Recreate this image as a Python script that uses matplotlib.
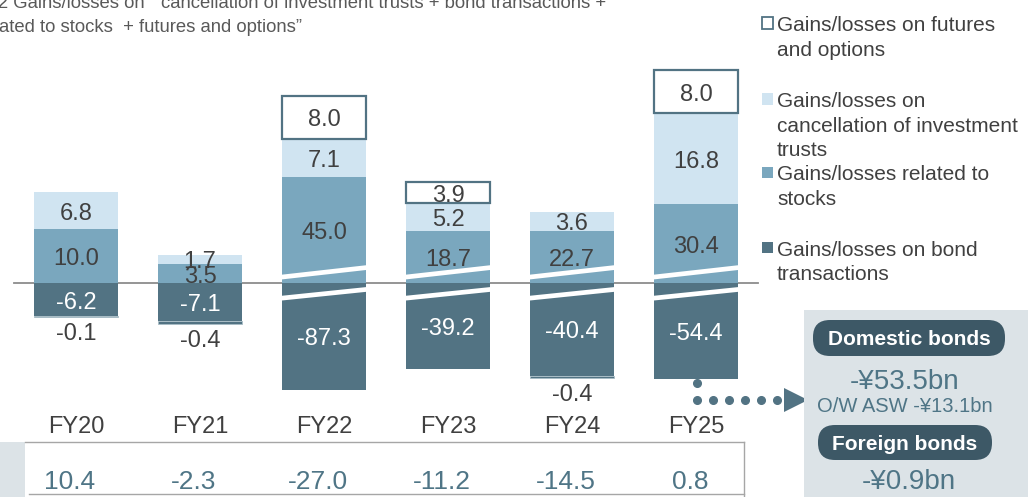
import matplotlib
matplotlib.use("Agg")
import matplotlib.pyplot as plt
from matplotlib.patches import Rectangle, FancyBboxPatch, Polygon
import numpy as np

plt.rcParams['font.family'] = ['Liberation Sans', 'DejaVu Sans']

# data (JPY bn)
years = ["FY20", "FY21", "FY22", "FY23", "FY24", "FY25"]
futures = [-0.1, -0.4, 8.0, 3.9, -0.4, 8.0]
trusts = [6.8, 1.7, 7.1, 5.2, 3.6, 16.8]
stocks = [10.0, 3.5, 45.0, 18.7, 22.7, 30.4]
bonds = [-6.2, -7.1, -87.3, -39.2, -40.4, -54.4]
totals = [10.4, -2.3, -27.0, -11.2, -14.5, 0.8]

# amount left out at the axis break on the tall segments
stocks_break = [0, 0, 25.4, 9.1, 13.1, 15.8]
bonds_break = [0, 0, 67.5, 23.3, 23.2, 36.6]

legend_items = [
    ["Gains/losses on futures", "and options"],
    ["Gains/losses on", "cancellation of investment", "trusts"],
    ["Gains/losses related to", "stocks"],
    ["Gains/losses on bond", "transactions"],
]
domestic = ["-¥53.5bn", "O/W ASW -¥13.1bn"]
foreign = ["-¥0.9bn"]

C_BOND = '#527383'
C_STOCK = '#7aa7be'
C_TRUST = '#d0e4f1'
C_TEXT = '#404040'
C_NUM = '#4f7586'
C_PANEL = '#dce3e7'
C_PILL = '#3d5866'

W, H = 1028, 497
fig = plt.figure(figsize=(W / 100, H / 100), dpi=100)
ax = fig.add_axes([0, 0, 1, 1])
ax.axis('off')

# pixel -> data helpers (FY20 centre at x=76px, zero line at y=283px)
def px(v):
    return (np.asarray(v, dtype=float) - 76) / 124

def py(v):
    return (283 - np.asarray(v, dtype=float)) / 5.4

ax.set_xlim(px(0), px(W))
ax.set_ylim(py(H), py(0))

x = np.arange(len(years))
w = 0.68
fut = np.array(futures)
stocks_shown = np.array(stocks) - np.array(stocks_break)
bonds_shown = np.array(bonds) + np.array(bonds_break)
top = stocks_shown + np.array(trusts)
pos = fut > 0

ax.plot([px(14), px(758)], [0, 0], color='#8c8c8c', lw=1.3, zorder=1)

ax.bar(x, bonds_shown, w, color=C_BOND, zorder=2)
ax.bar(x, stocks_shown, w, color=C_STOCK, zorder=2)
ax.bar(x, trusts, w, bottom=stocks_shown, color=C_TRUST, zorder=2)
ax.bar(x[pos], fut[pos], w, bottom=top[pos], facecolor='white',
       edgecolor=C_BOND, linewidth=1.6, zorder=3)
ax.bar(x[~pos], fut[~pos], w, bottom=bonds_shown[~pos], color=C_BOND,
       edgecolor='#a9bdc7', linewidth=0.6, zorder=3)

# break marks
for i in x:
    if stocks_break[i] > 0:
        ax.plot([i - w / 2 - 0.02, i + w / 2 + 0.02], [1.05, 2.9], color='white',
                lw=3.4, solid_capstyle='butt', zorder=4)
    if bonds_break[i] > 0:
        ax.plot([i - w / 2 - 0.02, i + w / 2 + 0.02], [-2.85, -1.15], color='white',
                lw=3.4, solid_capstyle='butt', zorder=4)

# value labels (small downward nudge so digits sit in the middle)
dy = -0.55
for i in x:
    ax.text(i, stocks_shown[i] / 2 + dy, f"{stocks[i]:.1f}", ha='center', va='center',
            fontsize=17, color=C_TEXT, zorder=5)
    ax.text(i, stocks_shown[i] + trusts[i] / 2 + dy, f"{trusts[i]:.1f}", ha='center',
            va='center', fontsize=17, color=C_TEXT, zorder=5)
    ax.text(i, bonds_shown[i] / 2 + dy, f"{bonds[i]:.1f}", ha='center', va='center',
            fontsize=17, color='white', zorder=5)
    if fut[i] > 0:
        ax.text(i, top[i] + fut[i] / 2 + dy, f"{fut[i]:.1f}", ha='center', va='center',
                fontsize=17, color=C_TEXT, zorder=5)
    else:
        ax.text(i, bonds_shown[i] + fut[i] - 2.6 + dy, f"{fut[i]:.1f}", ha='center',
                va='center', fontsize=17, color=C_TEXT, zorder=5)
    ax.text(i, py(433), years[i], ha='center', va='baseline', fontsize=17, color=C_TEXT)
    ax.text(i - 0.05, py(489), f"{totals[i]:.1f}", ha='center', va='baseline',
            fontsize=19, color=C_NUM)

# total row frame
ax.add_patch(Rectangle((px(0), py(H)), px(25) - px(0), py(442) - py(H),
                       color=C_PANEL, lw=0))
ax.plot([px(25), px(744)], [py(442), py(442)], color='#a6a6a6', lw=1)
ax.plot([px(29), px(744)], [py(494), py(494)], color='#a6a6a6', lw=1)
ax.plot([px(744), px(744)], [py(442), py(H)], color='#a6a6a6', lw=1)

# connector to the bond breakdown
ax.plot(px(697), py(383), 'o', ms=5.5, color=C_BOND)
dots = np.arange(697, 778, 16)
ax.plot(px(dots), py(np.full(len(dots), 400)), 'o', ms=5.5, color=C_BOND, ls='none')
ax.add_patch(Polygon([(px(784), py(388)), (px(784), py(412)), (px(808), py(400))],
                     closed=True, color=C_BOND, lw=0))

# breakdown panel
ax.add_patch(Rectangle((px(804), py(H)), px(W) - px(804), py(310) - py(H),
                       color=C_PANEL, lw=0))

def pill(x0, x1, y0, y1, label):
    p = FancyBboxPatch((x0 / 100, (H - y1) / 100), (x1 - x0) / 100, (y1 - y0) / 100,
                       boxstyle="round,pad=0,rounding_size=0.17",
                       transform=fig.dpi_scale_trans, color=C_PILL, lw=0)
    fig.add_artist(p)
    fig.text((x0 + x1) / 2 / W, 1 - ((y0 + y1) / 2 + 1.5) / H, label, ha='center', va='center',
             fontsize=15, fontweight='bold', color='white')

pill(813, 1005, 320, 356, "Domestic bonds")
fig.text(905 / W, 1 - 382 / H, domestic[0], ha='center', va='center', fontsize=20, color=C_NUM)
fig.text(905 / W, 1 - 406 / H, domestic[1], ha='center', va='center', fontsize=14.5, color=C_NUM)
pill(818, 992, 425, 460, "Foreign bonds")
fig.text(909 / W, 1 - 482 / H, foreign[0], ha='center', va='center', fontsize=20, color=C_NUM)

# legend
leg_y = [23, 99, 172, 248]
for k, (lines, yy) in enumerate(zip(legend_items, leg_y)):
    if k == 0:
        sq = Rectangle((762 / W, 1 - (yy + 5.5) / H), 11 / W, 11 / H, transform=fig.transFigure,
                       facecolor='white', edgecolor=C_BOND, lw=1.3)
    else:
        sq = Rectangle((762 / W, 1 - (yy + 5.5) / H), 11 / W, 11 / H, transform=fig.transFigure,
                       facecolor=[C_TRUST, C_STOCK, C_BOND][k - 1], lw=0)
    fig.add_artist(sq)
    for j, line in enumerate(lines):
        fig.text(777 / W, 1 - (yy + 2.5 + 24.5 * j) / H, line, ha='left', va='center',
                 fontsize=15, color=C_TEXT)

# note text (cut off at the top-left in the source)
fig.text(606 / W, 1 - 8 / H, "2 Gains/losses on  \u201ccancellation of investment trusts + bond transactions +",
         ha='right', va='baseline', fontsize=13.3, color='#595959')
fig.text(-1 / W, 1 - 32 / H, "ated to stocks  + futures and options\u201d",
         ha='left', va='baseline', fontsize=13.3, color='#595959')

fig.savefig("out.png", dpi=100)
